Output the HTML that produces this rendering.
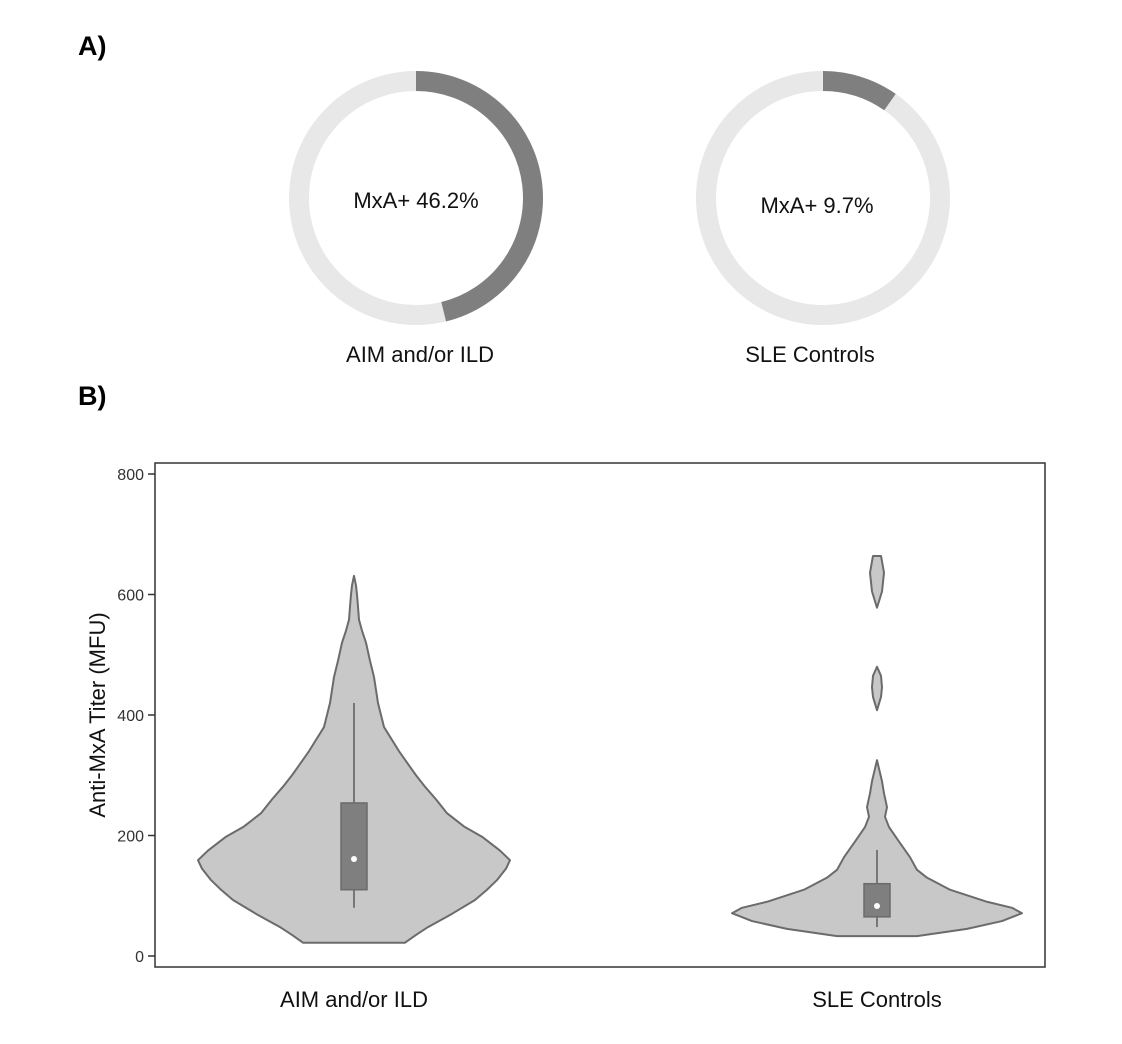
<!DOCTYPE html>
<html><head><meta charset="utf-8"><style>
body{margin:0;background:#fff;}
svg{display:block;font-family:"Liberation Sans",sans-serif;}
</style></head><body>
<svg id="fig" width="1122" height="1044">
<text x="78" y="55" font-size="27" font-weight="bold">A)</text>
<text x="78" y="405" font-size="27" font-weight="bold">B)</text>
<g id="donuts"></g>
<g id="violins"></g>
</svg>
<script>
const NS='http://www.w3.org/2000/svg';
function mk(tag,attrs,parent){const e=document.createElementNS(NS,tag);for(const k in attrs)e.setAttribute(k,attrs[k]);parent.appendChild(e);return e;}

// ---------- Panel A data ----------
const donutGroups=['AIM and/or ILD','SLE Controls'];
const donutPercents=[46.2,9.7];
const donutCx=[416,823];
const dg=document.getElementById('donuts');
const R=117,W=20,cy=198;
donutGroups.forEach((g,i)=>{
  const cx=donutCx[i];
  const ring=mk('circle',{cx:cx,cy:cy,r:R,fill:'none',stroke:'#e8e8e8','stroke-width':W},dg);
  
  
  const a=donutPercents[i]/100*2*Math.PI;
  const x1=cx,y1=cy-R,x2=cx+R*Math.sin(a),y2=cy-R*Math.cos(a);
  const arc=mk('path',{d:`M${x1},${y1} A${R},${R} 0 ${a>Math.PI?1:0} 1 ${x2},${y2}`,fill:'none',stroke:'#7f7f7f','stroke-width':W},dg);
  
  
  const t=mk('text',{x:cx-(i?6:0),y:cy+(i?15:10),'font-size':22,'text-anchor':'middle',fill:'#111'},dg);
  t.textContent='MxA+ '+donutPercents[i]+'%';
  
  
  const l=mk('text',{x:cx+(i?-13:4),y:362,'font-size':22,'text-anchor':'middle',fill:'#111'},dg);
  l.textContent=g;
  
  
});

// ---------- Panel B data ----------
const categories=['AIM and/or ILD','SLE Controls'];
const yTicks=[0,200,400,600,800];
// violin density profiles: value levels and half-widths (px)
const v1Values=[22,35,48,70,93,110,126,145,159,175,198,215,237,260,281,300,314,340,380,420,463,490,520,540,558,580,600,615,631];
const v1Half=[51,62,74,98,121,133,143,152,156,146,128,110,93,82,71,62,56,45,30,24,20,16,12,8,5,4,3,2,0];
const v2Values=[33,45,58,71,80,90,110,130,143,164,190,214,231,247,270,290,325];
const v2Half=[40,90,125,145,135,110,73,50,40,33,22,12,8,10,7,5,0];
const v2Blob1Values=[408,430,446,465,480];
const v2Blob1Half=[0,4,5,4,0];
const v2Blob2Values=[578,605,636,655,664];
const v2Blob2Half=[0,5,7,5,4];
const boxQ1=[110,65],boxQ3=[254,120],boxMed=[161,83],whiskLo=[80,48],whiskHi=[420,176];

const L=155,T=463,Rr=1045,B=967;
const y=v=>956-v*(482/800);
const xc=[354,877];
const vg=document.getElementById('violins');
const frame=mk('rect',{x:L,y:T,width:Rr-L,height:B-T,fill:'none',stroke:'#333','stroke-width':1.5},vg);


yTicks.forEach(v=>{
  const tk=mk('line',{x1:148,x2:L,y1:y(v),y2:y(v),stroke:'#333','stroke-width':1.5},vg);
  
  
  const t=mk('text',{x:144,y:y(v)+6,'font-size':16,'text-anchor':'end',fill:'#333'},vg);
  t.textContent=v;
  
  
});
const yt=mk('text',{x:105,y:715,'font-size':22,'text-anchor':'middle',fill:'#111',transform:'rotate(-90 105 715)'},vg);
yt.textContent='Anti-MxA Titer (MFU)';



function violin(cx,vals,halfs,name){
  let pts=[];
  vals.forEach((v,i)=>pts.push([cx-halfs[i],y(v)]));
  for(let i=vals.length-1;i>=0;i--)pts.push([cx+halfs[i],y(vals[i])]);
  const p=mk('polygon',{points:pts.map(p=>p.join(',')).join(' '),fill:'#c8c8c8',stroke:'#6b6b6b','stroke-width':2,'stroke-linejoin':'round'},vg);
  
  
}
violin(xc[0],v1Values,v1Half,'violin-aim-ild');
violin(xc[1],v2Values,v2Half,'violin-sle-controls');
violin(xc[1],v2Blob1Values,v2Blob1Half,'violin-sle-outlier-450');
violin(xc[1],v2Blob2Values,v2Blob2Half,'violin-sle-outlier-630');

categories.forEach((c,i)=>{
  const cx=xc[i];
  const w=mk('line',{x1:cx,x2:cx,y1:y(whiskLo[i]),y2:y(whiskHi[i]),stroke:'#777','stroke-width':2},vg);
  
  
  const b=mk('rect',{x:cx-13,y:y(boxQ3[i]),width:26,height:y(boxQ1[i])-y(boxQ3[i]),fill:'#7f7f7f',stroke:'#6b6b6b','stroke-width':1.5},vg);
  
  
  const d=mk('circle',{cx:cx,cy:y(boxMed[i]),r:3,fill:'#fff'},vg);
  
  
  const t=mk('text',{x:cx,y:1007,'font-size':22,'text-anchor':'middle',fill:'#111'},vg);
  t.textContent=c;
  
  
});
</script>
</body></html>
